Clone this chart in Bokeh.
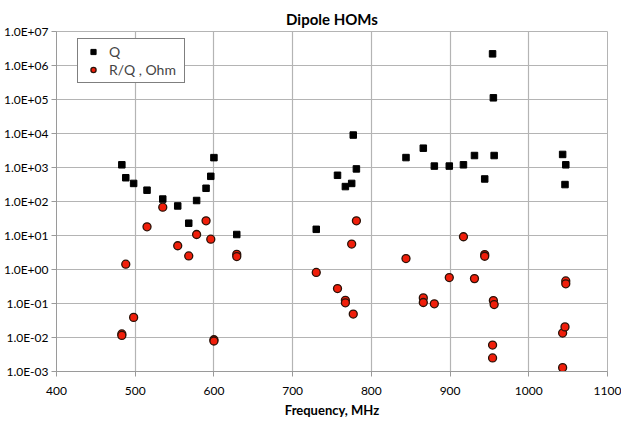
from bokeh.plotting import figure
from bokeh.models import FixedTicker, CustomJSTickFormatter, Legend, LegendItem
from bokeh.embed import file_html
from bokeh.resources import INLINE

# Data
q_freq = [483, 488, 498, 515, 535, 554, 568, 578, 590, 596, 600, 629,
          730, 757, 767, 775, 777, 781,
          844, 866, 880, 899, 917, 931, 944,
          954, 955, 956,
          1043, 1046, 1047]
q_val = [1200, 500, 340, 215, 118, 74, 23, 107, 245, 550, 1950, 10.7,
         15.2, 590, 275, 340, 9000, 910,
         1960, 3700, 1100, 1100, 1200, 2250, 460,
         2.2e6, 1.12e5, 2250,
         2420, 315, 1200]

rq_freq = [483, 483, 488, 498, 515, 535, 554, 568, 578, 590, 596, 600, 600, 629, 629,
           730, 757, 767, 767, 775, 777, 781,
           844, 866, 866, 880, 899, 917, 931, 944, 944,
           954, 954, 955, 956,
           1043, 1043, 1046, 1047, 1047]
rq_val = [0.0127, 0.0115, 1.43, 0.039, 18, 68, 5.0, 2.5, 10.7, 27, 7.8, 0.0086, 0.0079, 2.8, 2.4,
          0.82, 0.275, 0.124, 0.105, 5.6, 0.049, 27,
          2.1, 0.146, 0.107, 0.098, 0.58, 9.2, 0.54, 2.75, 2.45,
          0.006, 0.0025, 0.122, 0.093,
          0.0135, 0.0013, 0.0205, 0.46, 0.38]

x_ticks = [400, 500, 600, 700, 800, 900, 1000, 1100]
y_ticks = [1e-3, 1e-2, 1e-1, 1e0, 1e1, 1e2, 1e3, 1e4, 1e5, 1e6, 1e7]

FONT = "Lato"
GRID = "#b4b4b4"

p = figure(frame_width=551, frame_height=340,
           x_range=(400, 1100), y_range=(1e-3, 1e7), y_axis_type="log",
           output_backend="svg", toolbar_location=None,
           min_border_left=53, min_border_top=31, min_border_right=14, min_border_bottom=40,
           title="Dipole HOMs")

p.title.align = "center"
p.title.text_font = FONT
p.title.text_font_size = "15px"
p.title.text_font_style = "bold"
p.title.text_color = "#000000"
p.title.standoff = 8

p.outline_line_color = GRID
p.background_fill_color = "white"

p.xaxis.ticker = FixedTicker(ticks=x_ticks)
p.yaxis.ticker = FixedTicker(ticks=y_ticks)
p.yaxis.formatter = CustomJSTickFormatter(code="""
const e = Math.round(Math.log10(tick));
const a = Math.abs(e);
return "1.0E" + (e < 0 ? "-" : "+") + (a < 10 ? "0" : "") + a;
""")

for ax in (p.xaxis[0], p.yaxis[0]):
    ax.axis_line_color = "#9a9a9a"
    ax.major_tick_line_color = "#9a9a9a"
    ax.major_tick_out = 5
    ax.major_tick_in = 0
    ax.minor_tick_line_color = None
    ax.major_label_text_font = FONT
    ax.major_label_text_font_size = "12px"
    ax.major_label_text_color = "#000000"

p.xaxis.major_label_standoff = 10
p.yaxis.major_label_standoff = 3
p.xaxis.axis_label = "Frequency, MHz"
p.xaxis.axis_label_text_font = FONT
p.xaxis.axis_label_text_font_size = "13px"
p.xaxis.axis_label_text_font_style = "bold"
p.xaxis.axis_label_text_color = "#000000"
p.xaxis.axis_label_standoff = 4

p.xgrid.grid_line_color = GRID
p.ygrid.grid_line_color = GRID
p.xgrid.grid_line_width = 1.2
p.ygrid.grid_line_width = 1.2

r_q = p.scatter(q_freq, q_val, marker="square", size=6.5,
                fill_color="black", line_color="black")
r_rq = p.scatter(rq_freq, rq_val, marker="circle", size=8,
                 fill_color="#f01e0a", line_color="#2a1208", line_width=1.3)

legend = Legend(items=[LegendItem(label="Q", renderers=[r_q]),
                       LegendItem(label="R/Q , Ohm", renderers=[r_rq])],
                location=(21, 288), margin=0, padding=4, spacing=1,
                glyph_width=22, glyph_height=13, label_standoff=5,
                label_width=71, label_height=13,
                label_text_font=FONT, label_text_font_size="14px",
                border_line_color="black", border_line_width=1,
                background_fill_color="white", background_fill_alpha=1)
p.add_layout(legend)

open("out.html", "w").write(file_html(p, INLINE))
